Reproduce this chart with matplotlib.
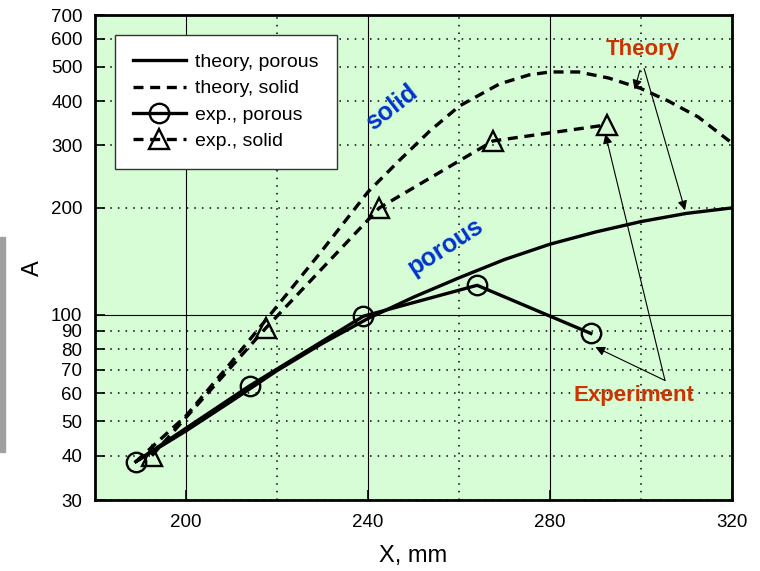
import numpy as np
import matplotlib
matplotlib.use('Agg')
import matplotlib.pyplot as plt
from matplotlib.ticker import FixedFormatter

plt.rcParams['font.family'] = ['Liberation Sans', 'DejaVu Sans']

# theory curves
x_th_solid = [189, 200.0, 209.8, 219.7, 229.5, 240.0, 247.0, 253.6, 260.1, 268.9, 275.4, 280.0, 286.3, 292.9, 299.7, 306.0, 312.6, 320]
y_th_solid = [38.5, 51.8, 73.0, 104.4, 149.3, 221.8, 273, 329.6, 387.7, 447.3, 474.4, 483.6, 483.6, 465, 435.9, 400.6, 361, 304.9]
x_th_porous = [189, 200, 210, 220, 230, 240, 250, 260, 270, 280, 290, 300, 310, 320]
y_th_porous = [38.5, 47, 57, 69.5, 83, 97.5, 112, 127, 143, 158, 171, 183, 193, 200]

# experiment
x_exp_porous = [189, 214, 239, 264, 289]
y_exp_porous = [38.5, 63, 99, 121, 88.5]
x_exp_solid = [192.5, 217.5, 242.5, 267.5, 292.5]
y_exp_solid = [40, 91.5, 200, 309, 343]

y_ticks = [30, 40, 50, 60, 70, 80, 90, 200, 300, 400, 500, 600, 700]
x_ticks = [200, 240, 280, 320]

# annotation arrows: (tip, tail)
theory_arrows = [((298.6, 432), (299.8, 489)), ((309.7, 197), (300.7, 495))]
exp_arrows = [((290.0, 81.0), (305.3, 65.2)), ((292.2, 323), (305.3, 65.2))]

green = '#d6fdd6'
red = '#cc3300'
blue = '#0033cc'

fig = plt.figure(figsize=(7.6, 5.71), dpi=100)
ax = fig.add_axes([0.125, 0.1243, 0.838, 0.8494])
ax.set_facecolor(green)
ax.set_yscale('log')
ax.set_xlim(180, 320)
ax.set_ylim(30, 700)

# grid: solid at major, dotted at minor
ax.set_xticks(x_ticks)
ax.set_xticks([220, 260, 300], minor=True)
ax.set_yticks([100])
ax.set_yticklabels(['100'])
ax.set_yticks(y_ticks, minor=True)
ax.yaxis.set_minor_formatter(FixedFormatter([str(v) for v in y_ticks]))
ax.grid(True, which='major', color='black', lw=0.8, ls='-')
ax.grid(True, which='minor', color='black', lw=1.1, ls=(0, (1, 4)))
ax.tick_params(which='both', direction='in', length=7, width=1.2, labelsize=13.5)
ax.tick_params(axis='x', which='both', pad=10)
ax.tick_params(axis='x', which='minor', length=0)
ax.tick_params(axis='y', which='both', pad=9)
for s in ax.spines.values():
    s.set_linewidth(2)

ax.plot(x_th_porous, y_th_porous, color='black', lw=2.4, label='theory, porous')
ax.plot(x_th_solid, y_th_solid, color='black', lw=2.4, ls=(0, (3, 2)), label='theory, solid')
ax.plot(x_exp_porous, y_exp_porous, color='black', lw=2.4, marker='o', ms=14,
        mfc='none', mec='black', mew=1.7, label='exp., porous')
ax.plot(x_exp_solid, y_exp_solid, color='black', lw=2.4, ls=(0, (3, 2)), marker='^', ms=15,
        mfc='none', mec='black', mew=1.7, label='exp., solid')

leg = ax.legend(loc='upper left', bbox_to_anchor=(0.031, 0.959), borderaxespad=0, fontsize=14,
                frameon=True, fancybox=False, framealpha=1, edgecolor='#333333',
                handlelength=2.7, handletextpad=0.5, borderpad=0.95, labelspacing=0.45)
leg.get_frame().set_linewidth(1)

ax.text(245.2, 383, 'solid', color=blue, fontsize=18, fontweight='bold', rotation=38,
        ha='center', va='center')
ax.text(257, 155, 'porous', color=blue, fontsize=18, fontweight='bold', rotation=33,
        ha='center', va='center')

ax.text(300.5, 558, 'Theory', color=red, fontsize=16, fontweight='bold', ha='center', va='center')
ax.text(298.4, 59.2, 'Experiment', color=red, fontsize=16, fontweight='bold', ha='center', va='center')

arr = dict(arrowstyle='-|>', color='black', lw=0.8, mutation_scale=14, shrinkA=0, shrinkB=0)
for tip, tail in theory_arrows + exp_arrows:
    ax.annotate('', xy=tip, xytext=tail, arrowprops=arr)

ax.set_xlabel('X, mm', fontsize=17, labelpad=10)
ax.set_ylabel('A', fontsize=17)
ax.yaxis.set_label_coords(-0.08, 0.478)

# grey strip at left edge
fig.patches.append(plt.Rectangle((0, 0.208), 0.0066, 0.377, transform=fig.transFigure,
                                 color='#a0a0a0', zorder=0))

fig.savefig('out.png', dpi=100)
